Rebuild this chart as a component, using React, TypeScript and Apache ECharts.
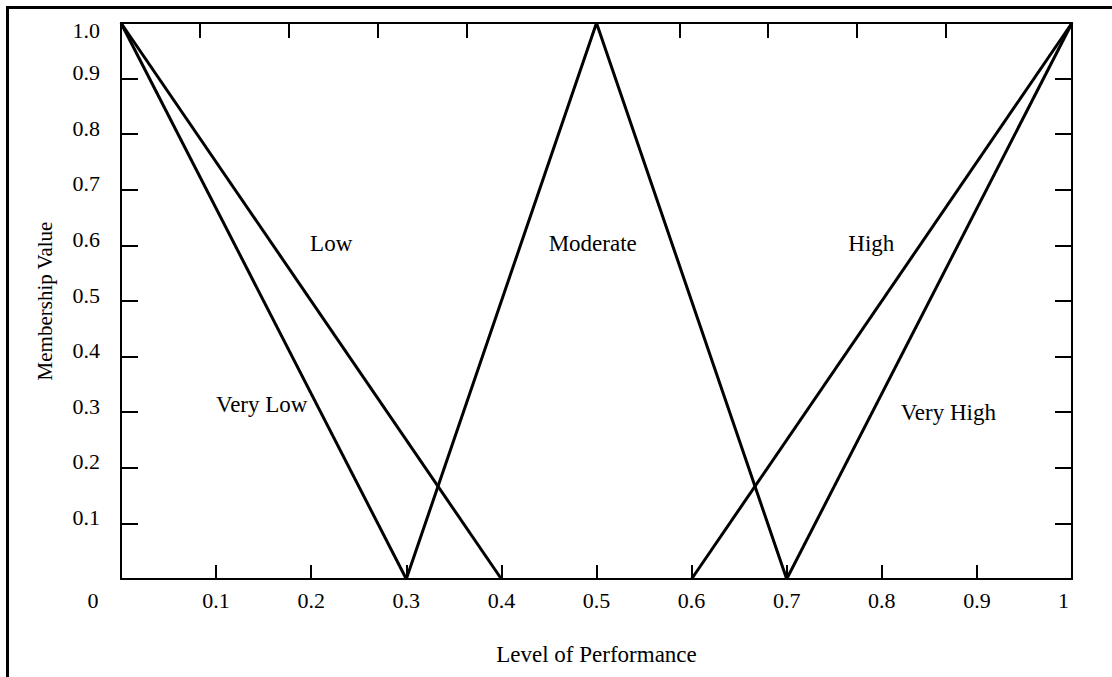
import React, { useEffect, useRef } from "react";
import * as echarts from "echarts";

// ---- data ----
const veryLow: number[][] = [[0, 1], [0.3, 0]];
const low: number[][] = [[0, 1], [0.4, 0]];
const moderate: number[][] = [[0.3, 0], [0.5, 1], [0.7, 0]];
const high: number[][] = [[0.6, 0], [1, 1]];
const veryHigh: number[][] = [[0.7, 0], [1, 1]];

const termNames = ["Low", "Moderate", "High", "Very Low", "Very High"];
const termLabelX = [0.221, 0.496, 0.789, 0.148, 0.87];
const termLabelY = [0.603, 0.603, 0.603, 0.313, 0.3];

// tick marks on the top edge of the frame (they do not line up with the bottom ones)
const topTickValues = [0.0831, 0.1767, 0.2702, 0.3638, 0.5878, 0.6803, 0.7739, 0.8675];

const xAxisTitle = "Level of Performance";
const yAxisTitle = "Membership Value";

const FONT = "'Liberation Serif', 'Times New Roman', serif";

export default function App() {
  const ref = useRef<HTMLDivElement>(null);

  useEffect(() => {
    if (!ref.current) return;
    const chart = echarts.init(ref.current, undefined, { renderer: "svg" });

    const lineSeries = (name: string, data: number[][]) => ({
      name,
      type: "line",
      data,
      symbol: "none",
      xAxisIndex: 0,
      yAxisIndex: 0,
      lineStyle: { color: "#000", width: 3 },
      z: 3,
    });

    const option: any = {
      animation: false,
      backgroundColor: "#fff",
      textStyle: { fontFamily: FONT, color: "#000" },
      grid: { left: 121, right: 40, top: 23, bottom: 98, containLabel: false },
      xAxis: [
        {
          type: "value",
          position: "bottom",
          min: 0,
          max: 1,
          interval: 0.1,
          name: xAxisTitle,
          nameLocation: "middle",
          nameGap: 64,
          nameTextStyle: { fontFamily: FONT, fontSize: 23, color: "#000" },
          axisLine: { show: true, onZero: false, lineStyle: { color: "#000", width: 2 } },
          axisTick: { show: true, inside: true, length: 14, lineStyle: { color: "#000", width: 2 } },
          splitLine: { show: false },
          axisLabel: {
            show: true,
            margin: 10,
            color: "#000",
            fontFamily: FONT,
            fontSize: 22,
            showMinLabel: true,
            showMaxLabel: true,
            formatter: (v: number) => {
              if (Math.abs(v) < 1e-9) return "{zero|0}";
              if (Math.abs(v - 1) < 1e-9) return "{one|1}";
              return "{n|" + v.toFixed(1) + "}";
            },
            rich: {
              n: { fontFamily: FONT, fontSize: 22, color: "#000" },
              zero: { fontFamily: FONT, fontSize: 22, color: "#000", padding: [0, 56, 0, 0] },
              one: { fontFamily: FONT, fontSize: 22, color: "#000", padding: [0, 17, 0, 0] },
            },
          },
        },
        {
          type: "value",
          position: "top",
          min: 0,
          max: 1,
          axisLine: { show: true, onZero: false, lineStyle: { color: "#000", width: 2 } },
          axisTick: {
            show: true,
            inside: true,
            length: 15,
            customValues: topTickValues,
            lineStyle: { color: "#000", width: 2 },
          },
          axisLabel: { show: false },
          splitLine: { show: false },
        },
      ],
      yAxis: [
        {
          type: "value",
          position: "left",
          min: 0,
          max: 1,
          interval: 0.1,
          name: yAxisTitle,
          nameLocation: "middle",
          nameGap: 66,
          nameRotate: 90,
          nameTextStyle: { fontFamily: FONT, fontSize: 21, color: "#000" },
          axisLine: { show: true, onZero: false, lineStyle: { color: "#000", width: 2 } },
          axisTick: { show: true, inside: true, length: 17, lineStyle: { color: "#000", width: 2 } },
          splitLine: { show: false },
          axisLabel: {
            show: true,
            margin: 21,
            color: "#000",
            fontFamily: FONT,
            fontSize: 22,
            showMinLabel: true,
            showMaxLabel: true,
            formatter: (v: number) => {
              if (Math.abs(v) < 1e-9) return "";
              if (Math.abs(v - 1) < 1e-9) return "{top|1.0}";
              return "{n|" + v.toFixed(1) + "}";
            },
            rich: {
              n: { fontFamily: FONT, fontSize: 22, color: "#000", padding: [0, 0, 12, 0] },
              top: { fontFamily: FONT, fontSize: 22, color: "#000", padding: [14, 0, 0, 0] },
            },
          },
        },
        {
          type: "value",
          position: "right",
          min: 0,
          max: 1,
          interval: 0.1,
          axisLine: { show: true, onZero: false, lineStyle: { color: "#000", width: 2 } },
          axisTick: { show: true, inside: true, length: 17, lineStyle: { color: "#000", width: 2 } },
          axisLabel: { show: false },
          splitLine: { show: false },
        },
      ],
      series: [
        lineSeries("Very Low", veryLow),
        lineSeries("Low", low),
        lineSeries("Moderate", moderate),
        lineSeries("High", high),
        lineSeries("Very High", veryHigh),
        {
          name: "terms",
          type: "scatter",
          symbolSize: 0,
          xAxisIndex: 0,
          yAxisIndex: 0,
          itemStyle: { opacity: 1, color: "#000" },
          data: termNames.map((n, i) => ({ name: n, value: [termLabelX[i], termLabelY[i]] })),
          label: {
            show: true,
            position: "inside",
            formatter: (p: any) => p.name,
            fontFamily: FONT,
            fontSize: 23,
            color: "#000",
            opacity: 1,
          },
          silent: true,
          z: 4,
        },
      ],
      graphic: [
        {
          type: "line",
          shape: { x1: 7.5, y1: 7, x2: 7.5, y2: 677 },
          style: { stroke: "#000", lineWidth: 3 },
        },
        {
          type: "line",
          shape: { x1: 6, y1: 7.5, x2: 1112, y2: 7.5 },
          style: { stroke: "#000", lineWidth: 3 },
        },
      ],
    };

    chart.setOption(option);
    return () => chart.dispose();
  }, []);

  return (
    <div
      ref={ref}
      style={{ position: "fixed", left: 0, top: 0, width: 1112, height: 677, background: "#fff" }}
    />
  );
}
